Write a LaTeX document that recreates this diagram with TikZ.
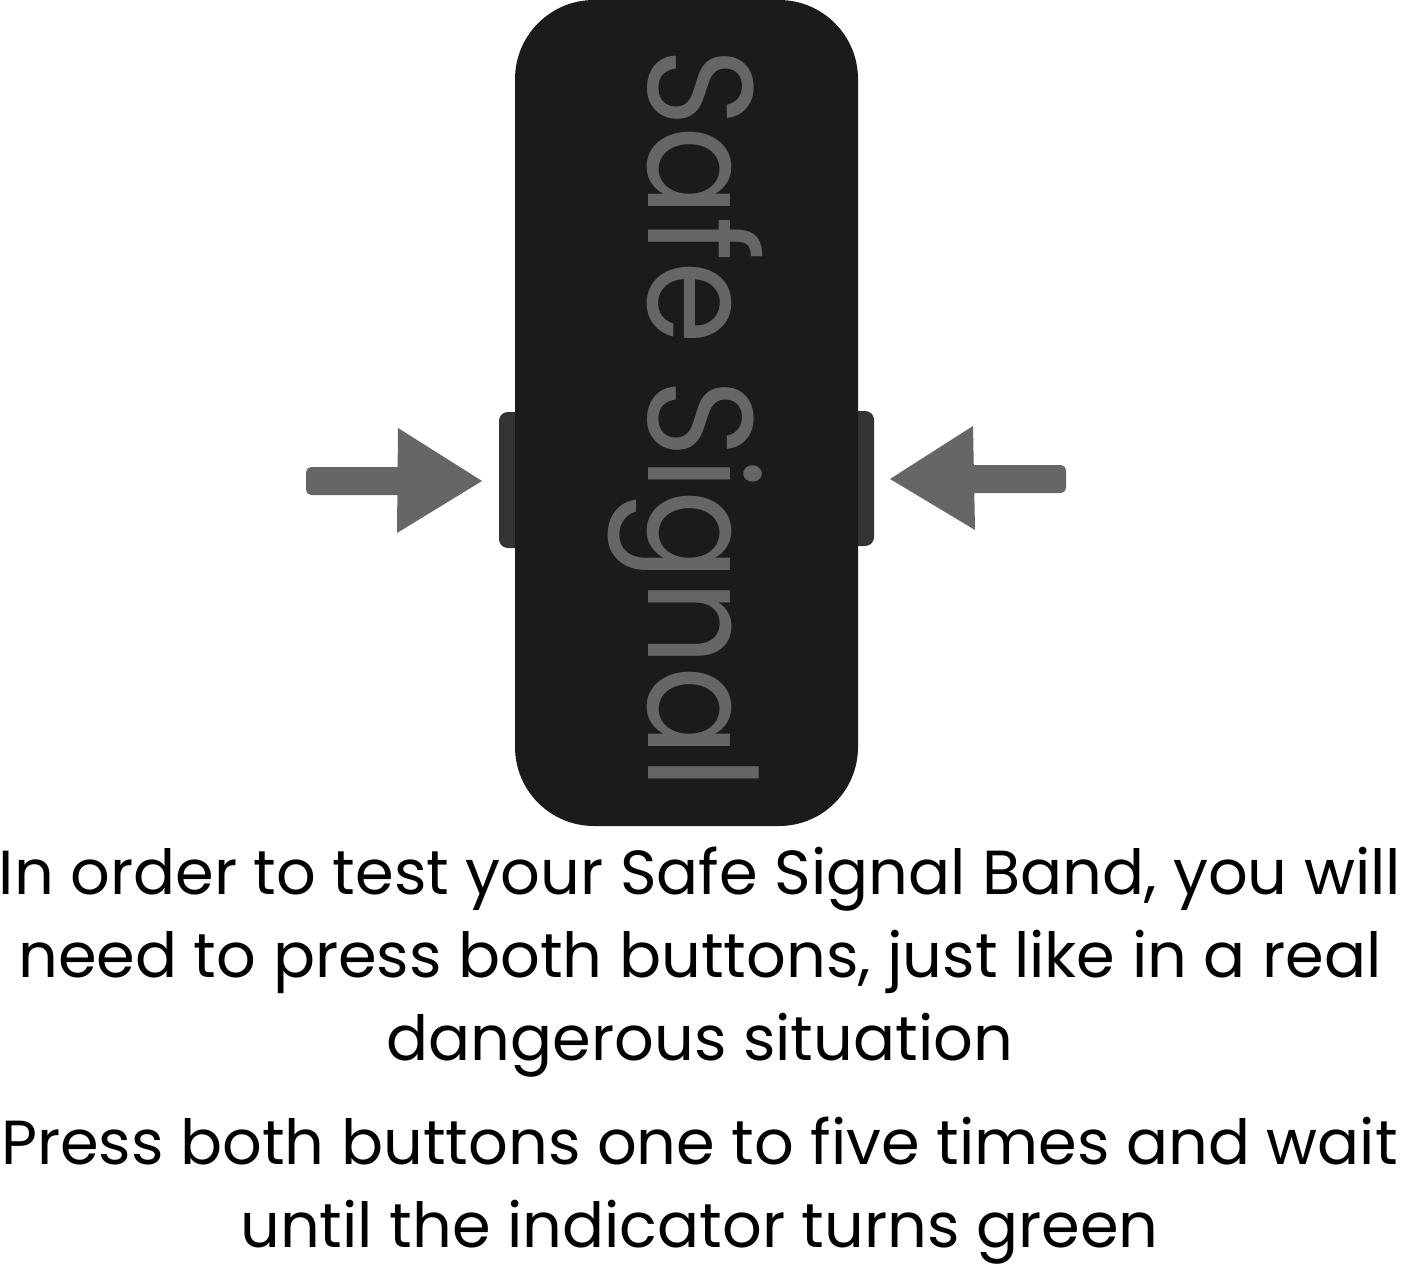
\documentclass[tikz,border=0pt]{standalone}
\usepackage{fontspec}
\setmainfont{Poppins}
\usetikzlibrary{positioning}
\definecolor{bandblack}{RGB}{27,27,27}
\definecolor{buttongray}{RGB}{51,51,51}
\definecolor{signalgray}{RGB}{102,102,102}
\tikzset{
  captiontext/.style={font=\fontsize{35.4}{47.1}\selectfont,align=center,text=black,inner sep=0pt},
  bandlabel/.style={font=\fontsize{76}{90}\selectfont\fontseries{l}\selectfont,text=signalgray,rotate=-90,inner sep=0pt,yscale=1.12},
}
\begin{document}
\begin{tikzpicture}[x=.02cm,y=-.02cm]
\useasboundingbox (0,0) rectangle (1402,1267);
% buttons under the band
\fill[buttongray,rounded corners=5pt] (499,412) rectangle (600,548);
\fill[buttongray,rounded corners=5pt] (780,411) rectangle (874,546);
\fill[bandblack,rounded corners=45pt] (515,0) rectangle (858,826);
\node[bandlabel] (bandname) at (685.5,419) {Safe Signal};
% arrows
\fill[signalgray,rounded corners=3pt] (306,467) rectangle (405,495);
\fill[signalgray] (398,428) -- (482,481) -- (397,533) -- cycle;
\fill[signalgray,rounded corners=3pt] (965,465) rectangle (1066,493);
\fill[signalgray] (973,426) -- (890,479) -- (975,530) -- cycle;
\node[captiontext] (testtext) at (700,962) {In order to test your Safe Signal Band, you will\\need to press both buttons, just like in a real\\dangerous situation};
\node[captiontext] (presstext) at (699.5,1190.5) {Press both buttons one to five times and wait\\until the indicator turns green};
\end{tikzpicture}
\end{document}
